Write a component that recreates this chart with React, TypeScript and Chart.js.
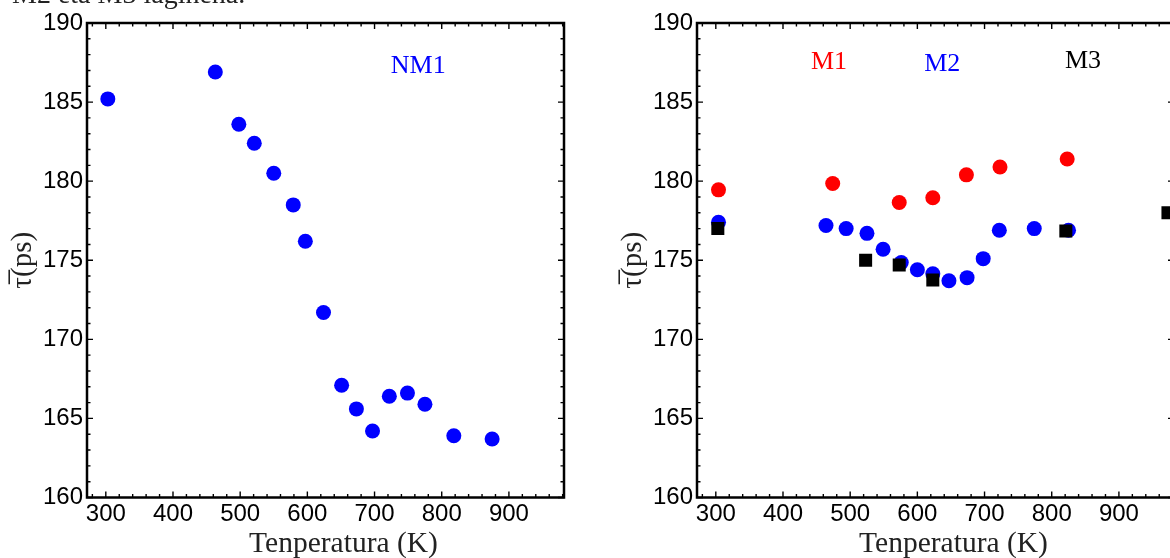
import React, { useEffect, useRef } from "react";
import { Chart, registerables } from "chart.js";

Chart.register(...registerables);

// ---- data ----
const xTickValues = [300, 400, 500, 600, 700, 800, 900];
const yTickValues = [160, 165, 170, 175, 180, 185, 190];

const nm1Temps = [303, 463, 498, 521, 550, 579, 597, 624, 651, 673, 697, 722, 749, 775, 818, 875];
const nm1Tau = [185.2, 186.9, 183.6, 182.4, 180.5, 178.5, 176.2, 171.7, 167.1, 165.6, 164.2, 166.4, 166.6, 165.9, 163.9, 163.7];

const m1Temps = [304, 474, 573, 623, 673, 723, 823];
const m1Tau = [179.45, 179.85, 178.65, 178.95, 180.4, 180.9, 181.4];

const m2Temps = [304, 464, 494, 525, 549, 576, 600, 623, 647, 674, 698, 722, 774, 825];
const m2Tau = [177.4, 177.2, 177.0, 176.7, 175.7, 174.85, 174.4, 174.15, 173.7, 173.9, 175.1, 176.9, 177.0, 176.9];

const m3Temps = [303, 523, 573, 623, 821, 973];
const m3Tau = [177.0, 175.0, 174.7, 173.75, 176.85, 178.0];

const xTitle = "Tenperatura (K)";
const yTitle = "τ\u0305(ps)";
const caption = "M2 eta M3 lagineña.";

const SERIF = "'Liberation Serif', 'Times New Roman', serif";
const SANS = "'Liberation Sans', Arial, sans-serif";

const toPoints = (xs: number[], ys: number[]) => xs.map((x, i) => ({ x, y: ys[i] }));

type Label = { text: string; x: number; y: number; color: string };

const frameTicks = {
  id: "frameTicks",
  afterDraw(chart: any, _args: any, opts: any) {
    const { ctx, chartArea: a } = chart;
    const xs = chart.scales.x;
    const ys = chart.scales.y;
    ctx.save();
    ctx.strokeStyle = "#000";
    ctx.lineWidth = 1.4;
    ctx.beginPath();
    for (let v = 280; v <= 980; v += 20) {
      const px = xs.getPixelForValue(v);
      const L = v % 100 === 0 ? 6 : 3.5;
      ctx.moveTo(px, a.bottom);
      ctx.lineTo(px, a.bottom - L);
      ctx.moveTo(px, a.top);
      ctx.lineTo(px, a.top + L);
    }
    for (let v = 160; v <= 190; v += 1) {
      const py = ys.getPixelForValue(v);
      const L = v % 5 === 0 ? 6 : 3.5;
      ctx.moveTo(a.left, py);
      ctx.lineTo(a.left + L, py);
      ctx.moveTo(a.right, py);
      ctx.lineTo(a.right - L, py);
    }
    ctx.stroke();
    ctx.lineWidth = 2.5;
    ctx.strokeRect(a.left, a.top, a.right - a.left, a.bottom - a.top);

    // annotations
    ctx.textAlign = "center";
    ctx.textBaseline = "middle";
    ctx.font = `26px ${SERIF}`;
    (opts.labels || []).forEach((l: Label) => {
      ctx.fillStyle = l.color;
      ctx.fillText(l.text, xs.getPixelForValue(l.x), ys.getPixelForValue(l.y));
    });

    // x title
    ctx.font = `29.5px ${SERIF}`;
    ctx.fillStyle = "#222";
    ctx.textBaseline = "alphabetic";
    ctx.fillText(xTitle, (a.left + a.right) / 2 + 18, 552);

    if (opts.caption) {
      ctx.textAlign = "left";
      ctx.font = `28px ${SERIF}`;
      ctx.fillText(opts.caption, 12, 3);
    }
    ctx.restore();
  },
};

function makeConfig(datasets: any[], labels: Label[], withCaption: boolean): any {
  return {
    type: "scatter",
    data: { datasets },
    plugins: [frameTicks],
    options: {
      animation: false,
      responsive: false,
      devicePixelRatio: 1,
      layout: { padding: { top: 23, right: 36, bottom: 0, left: 0 } },
      plugins: {
        legend: { display: false },
        tooltip: { enabled: false },
        frameTicks: { labels, caption: withCaption ? caption : null },
      },
      scales: {
        x: {
          type: "linear",
          min: 272,
          max: 982,
          grid: { display: false, drawTicks: false },
          border: { display: false },
          afterBuildTicks: (s: any) => {
            s.ticks = xTickValues.map((v) => ({ value: v }));
          },
          afterFit: (s: any) => {
            s.height = 60.5;
          },
          ticks: {
            padding: 2,
            color: "#000",
            font: { family: SANS, size: 24 },
            maxRotation: 0,
            autoSkip: false,
          },
        },
        y: {
          type: "linear",
          min: 160,
          max: 190,
          grid: { display: false, drawTicks: false },
          border: { display: false },
          afterBuildTicks: (s: any) => {
            s.ticks = yTickValues.map((v) => ({ value: v }));
          },
          afterFit: (s: any) => {
            s.width = 87;
          },
          ticks: {
            padding: 4,
            color: "#000",
            font: { family: SANS, size: 24 },
            autoSkip: false,
          },
          title: {
            display: true,
            text: yTitle,
            color: "#222",
            font: { family: SERIF, size: 29 },
            padding: { top: 6, bottom: 0 },
          },
        },
      },
    },
  };
}

function ChartCanvas({ config, left }: { config: () => any; left: number }) {
  const ref = useRef<HTMLCanvasElement | null>(null);
  useEffect(() => {
    if (!ref.current) return;
    const chart = new Chart(ref.current, config());
    return () => chart.destroy();
  }, []);
  return (
    <canvas
      ref={ref}
      width={600}
      height={558}
      style={{ position: "absolute", left, top: 0, width: 600, height: 558 }}
    />
  );
}

export default function App() {
  const leftConfig = () =>
    makeConfig(
      [
        {
          data: toPoints(nm1Temps, nm1Tau),
          backgroundColor: "#0000ff",
          borderWidth: 0,
          pointRadius: 7.5,
          pointStyle: "circle",
        },
      ],
      [{ text: "NM1", x: 765, y: 187.3, color: "#0000ff" }],
      true
    );
  const rightConfig = () =>
    makeConfig(
      [
        {
          data: toPoints(m3Temps, m3Tau),
          backgroundColor: "#000000",
          borderWidth: 0,
          pointRadius: 9.2,
          pointStyle: "rect",
        },
        {
          data: toPoints(m2Temps, m2Tau),
          backgroundColor: "#0000ff",
          borderWidth: 0,
          pointRadius: 7.5,
          pointStyle: "circle",
        },
        {
          data: toPoints(m1Temps, m1Tau),
          backgroundColor: "#ff0000",
          borderWidth: 0,
          pointRadius: 7.5,
          pointStyle: "circle",
        },
      ],
      [
        { text: "M1", x: 468.5, y: 187.5, color: "#ff0000" },
        { text: "M2", x: 637, y: 187.4, color: "#0000ff" },
        { text: "M3", x: 846.5, y: 187.6, color: "#000000" },
      ],
      false
    );
  return (
    <div
      style={{
        position: "absolute",
        left: 0,
        top: 0,
        width: 1170,
        height: 558,
        overflow: "hidden",
        background: "#fff",
      }}
    >
      <ChartCanvas config={leftConfig} left={0} />
      <ChartCanvas config={rightConfig} left={610} />
    </div>
  );
}
